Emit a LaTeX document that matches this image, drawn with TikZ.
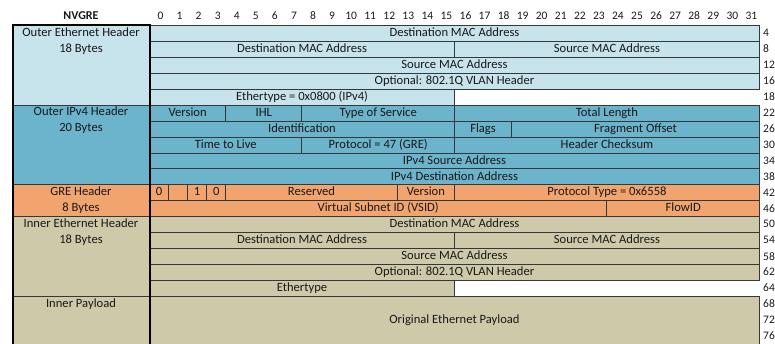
\documentclass[tikz,border=0pt]{standalone}
\usepackage{fontspec}
\setmainfont{Carlito}
\usepackage{tikz}
\usetikzlibrary{positioning}
\definecolor{ethlight}{RGB}{199,227,235}
\definecolor{ipblue}{RGB}{108,179,204}
\definecolor{greorange}{RGB}{242,164,111}
\definecolor{innertan}{RGB}{206,201,168}
\definecolor{celledge}{RGB}{50,56,60}
\definecolor{inktext}{RGB}{25,25,25}
\def\bitW{19.06}
\def\rowH{15.94}
\def\leftX{13}
\def\bitX{149}
\def\topY{25}
\tikzset{
  field/.style={
    rectangle,
    draw=celledge,
    line width=1pt,
    inner sep=0pt,
    anchor=north west,
    minimum height=\rowH pt,
    text height=8.4pt,
    text depth=2.2pt,
    text=inktext,
    font=\fontsize{12.6}{14}\selectfont
  },
  hdrblock/.style={
    field,
    minimum width={(\bitX-\leftX)*1pt}
  },
  blocktext/.style={
    inner sep=0pt,
    text height=8.4pt,
    text depth=2.2pt,
    text=inktext,
    font=\fontsize{12.6}{14}\selectfont
  },
  bitnum/.style={
    inner sep=0pt,
    text=inktext,
    font=\fontsize{11.5}{13}\selectfont
  },
  offset/.style={
    bitnum,
    anchor=west
  },
  frame/.style={
    line width=2pt,
    black
  }
}
% name, row, first bit, bits, colour, text
\newcommand{\pktfield}[6]{%
  \node[field, fill=#5, minimum width={#4*\bitW*1pt}] (#1)
    at ({\bitX+#3*\bitW},{\topY+(#2-1)*\rowH}) {#6};}

\begin{document}
\begin{tikzpicture}[x=1pt, y=-1pt]
  \useasboundingbox (0,0) rectangle (775,343);

  % bit numbers across the top
  \node[bitnum, font=\fontsize{12}{14}\selectfont\bfseries] (nvgre) at ({(\leftX+\bitX)/2},16) {NVGRE};
  \foreach \b in {0,...,31}
    \node[bitnum] (bit\b) at ({\bitX+(\b+0.5)*\bitW+2},16) {\b};

  % header blocks on the left
  \node[hdrblock, fill=ethlight, minimum height={5*\rowH*1pt}] (outEth) at (\leftX,\topY) {};
  \node[hdrblock, fill=ipblue, minimum height={5*\rowH*1pt}] (outIp) at (\leftX,{\topY+5*\rowH}) {};
  \node[hdrblock, fill=greorange, minimum height={2*\rowH*1pt}] (greHdr) at (\leftX,{\topY+10*\rowH}) {};
  \node[hdrblock, fill=innertan, minimum height={5*\rowH*1pt}] (inEth) at (\leftX,{\topY+12*\rowH}) {};
  \node[hdrblock, fill=innertan, minimum height={3*\rowH*1pt}] (inPay) at (\leftX,{\topY+17*\rowH}) {};

  \node[blocktext] (outEthName) at ({(\leftX+\bitX)/2},{\topY+0.5*\rowH}) {Outer Ethernet Header};
  \node[blocktext] (outEthLen) at ({(\leftX+\bitX)/2},{\topY+1.5*\rowH}) {18 Bytes};
  \node[blocktext] (outIpName) at ({(\leftX+\bitX)/2},{\topY+5.5*\rowH}) {Outer IPv4 Header};
  \node[blocktext] (outIpLen) at ({(\leftX+\bitX)/2},{\topY+6.5*\rowH}) {20 Bytes};
  \node[blocktext] (greName) at ({(\leftX+\bitX)/2},{\topY+10.5*\rowH}) {GRE Header};
  \node[blocktext] (greLen) at ({(\leftX+\bitX)/2},{\topY+11.5*\rowH}) {8 Bytes};
  \node[blocktext] (inEthName) at ({(\leftX+\bitX)/2},{\topY+12.5*\rowH}) {Inner Ethernet Header};
  \node[blocktext] (inEthLen) at ({(\leftX+\bitX)/2},{\topY+13.5*\rowH}) {18 Bytes};
  \node[blocktext] (inPayName) at ({(\leftX+\bitX)/2},{\topY+17.5*\rowH}) {Inner Payload};

  % outer Ethernet header
  \pktfield{dstMacA}{1}{0}{32}{ethlight}{Destination MAC Address}
  \pktfield{dstMacB}{2}{0}{16}{ethlight}{Destination MAC Address}
  \pktfield{srcMacA}{2}{16}{16}{ethlight}{Source MAC Address}
  \pktfield{srcMacB}{3}{0}{32}{ethlight}{Source MAC Address}
  \pktfield{vlanTag}{4}{0}{32}{ethlight}{Optional: 802.1Q VLAN Header}
  \pktfield{etherType}{5}{0}{16}{ethlight}{Ethertype = 0x0800 (IPv4)}

  % outer IPv4 header
  \pktfield{ver}{6}{0}{4}{ipblue}{Version}
  \pktfield{ihl}{6}{4}{4}{ipblue}{IHL}
  \pktfield{tos}{6}{8}{8}{ipblue}{Type of Service}
  \pktfield{totLen}{6}{16}{16}{ipblue}{Total Length}
  \pktfield{ident}{7}{0}{16}{ipblue}{Identification}
  \pktfield{flags}{7}{16}{3}{ipblue}{Flags}
  \pktfield{fragOff}{7}{19}{13}{ipblue}{Fragment Offset}
  \pktfield{ttl}{8}{0}{8}{ipblue}{Time to Live}
  \pktfield{proto}{8}{8}{8}{ipblue}{Protocol = 47 (GRE)}
  \pktfield{hdrSum}{8}{16}{16}{ipblue}{Header Checksum}
  \pktfield{srcIp}{9}{0}{32}{ipblue}{IPv4 Source Address}
  \pktfield{dstIp}{10}{0}{32}{ipblue}{IPv4 Destination Address}

  % GRE header
  \pktfield{cBit}{11}{0}{1}{greorange}{0}
  \pktfield{rBit}{11}{1}{1}{greorange}{}
  \pktfield{kBit}{11}{2}{1}{greorange}{1}
  \pktfield{sBit}{11}{3}{1}{greorange}{0}
  \pktfield{resv}{11}{4}{9}{greorange}{Reserved}
  \pktfield{greVer}{11}{13}{3}{greorange}{Version}
  \pktfield{protoType}{11}{16}{16}{greorange}{Protocol Type = 0x6558}
  \pktfield{vsid}{12}{0}{24}{greorange}{Virtual Subnet ID (VSID)}
  \pktfield{flowId}{12}{24}{8}{greorange}{FlowID}

  % inner Ethernet header
  \pktfield{inDstA}{13}{0}{32}{innertan}{Destination MAC Address}
  \pktfield{inDstB}{14}{0}{16}{innertan}{Destination MAC Address}
  \pktfield{inSrcA}{14}{16}{16}{innertan}{Source MAC Address}
  \pktfield{inSrcB}{15}{0}{32}{innertan}{Source MAC Address}
  \pktfield{inVlan}{16}{0}{32}{innertan}{Optional: 802.1Q VLAN Header}
  \pktfield{inType}{17}{0}{16}{innertan}{Ethertype}

  % payload spans three rows
  \node[field, fill=innertan, minimum width={32*\bitW*1pt}, minimum height={3*\rowH*1pt}] (origPay)
    at (\bitX,{\topY+17*\rowH}) {Original Ethernet Payload};

  % heavy outline of the left column
  \draw[frame] (inPay.south west) -- (outEth.north west) -- (outEth.north east) -- (inPay.south east);

  % byte offsets on the right
  \foreach \r/\n in {1/4,2/8,3/12,4/16,5/18,6/22,7/26,8/30,9/34,10/38,
                     11/42,12/46,13/50,14/54,15/58,16/62,17/64,18/68,19/72,20/76}
    \node[offset] (off\r) at (763,{\topY+(\r-0.5)*\rowH}) {\n};
\end{tikzpicture}
\end{document}
